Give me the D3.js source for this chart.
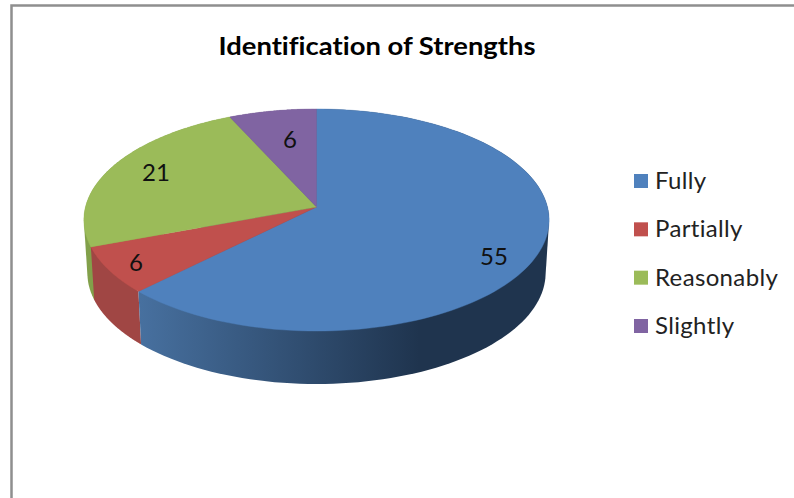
<!DOCTYPE html>
<html><head><meta charset="utf-8">
<script src="https://cdn.jsdelivr.net/npm/d3@7/dist/d3.min.js"></script>
<style>html,body{margin:0;padding:0;background:#fff;overflow:hidden}text{font-variant-ligatures:none}</style>
</head><body><div id="c"></div>
<script>
const titleText = "Identification of Strengths";
const categories = ["Fully", "Partially", "Reasonably", "Slightly"];
const values = [55, 6, 21, 6];
const topColors = ["#4f81bd", "#c0504d", "#9bbb59", "#8064a2"];
const wallLight = ["#47709f", "#a04644", "#82a04a", "#6b5488"];
const wallDark = ["#1f344e", "#8a3b39", "#6d8a3a", "#5a4672"];
const labelPos = [[494, 255], [136, 261], [156, 171], [290, 138]];
const wallOrder = [3, 2, 1, 0];

const W = 794, H = 498;
const svg = d3.select("#c").append("svg").attr("width", W).attr("height", H)
  .style("display", "block");
svg.append("rect").attr("width", W).attr("height", H).attr("fill", "#fff");

// frame
svg.append("path").attr("d", d3.line()([[11.5, H], [11.5, 5.5], [W, 5.5]]))
  .attr("fill", "none").attr("stroke", "#8f8f8f").attr("stroke-width", 2.5);

// title
svg.append("text").attr("x", 377).attr("y", 55).attr("text-anchor", "middle")
  .attr("font-family", "Lato").attr("font-weight", 700).attr("font-size", 25)
  .attr("textLength", 317).attr("lengthAdjust", "spacingAndGlyphs")
  .attr("fill", "#000").text(titleText);

// pie with perspective projection of a tilted disc
const cx = 316.5, cy = 207, persp = 0.117, kx = 231, ky = 109.5, depth = 53, shrink = 0.985;
function proj(a, bottom) {
  const s = Math.sin(a), v = -Math.cos(a), d = 1 - persp * v;
  return bottom
    ? [cx + kx * shrink * s / d, cy + depth + ky * v / d]
    : [cx + kx * s / d, cy + ky * v / d];
}
const arcs = d3.pie().sort(null)(values);
const line = d3.line();
const defs = svg.append("defs");
const sample = (a0, a1) => d3.range(0, 121).map(i => a0 + (a1 - a0) * i / 120);

arcs.forEach((d, i) => {
  const g = defs.append("linearGradient").attr("id", "w" + i)
    .attr("gradientUnits", "userSpaceOnUse")
    .attr("x1", 140).attr("x2", 545).attr("y1", 0).attr("y2", 0);
  [[0, wallLight[i]], [0.69, wallDark[i]], [1, wallDark[i]]]
    .forEach(s => g.append("stop").attr("offset", s[0]).attr("stop-color", s[1]));
});

// side walls: hull of the swept rim, painted back to front
svg.append("g").selectAll("path").data(wallOrder).join("path")
  .attr("fill", i => `url(#w${i})`)
  .attr("d", i => {
    const as = sample(arcs[i].startAngle, arcs[i].endAngle);
    const pts = as.map(a => proj(a, false)).concat(as.map(a => proj(a, true)));
    return line(d3.polygonHull(pts)) + "Z";
  });

// top faces
svg.append("g").selectAll("path").data(arcs).join("path")
  .attr("fill", (d, i) => topColors[i])
  .attr("stroke", (d, i) => topColors[i]).attr("stroke-width", 0.4)
  .attr("d", d => line([[cx, cy]].concat(sample(d.startAngle, d.endAngle).map(a => proj(a, false)))) + "Z");

// data labels
svg.append("g").selectAll("text").data(values).join("text")
  .attr("x", (d, i) => labelPos[i][0]).attr("y", (d, i) => labelPos[i][1])
  .attr("text-anchor", "middle").attr("dominant-baseline", "central")
  .attr("font-family", "Lato").attr("font-size", 24).attr("fill", "#111")
  .text(d => d);

// legend
const ly = d3.scalePoint().domain(categories).range([181, 326]);
const lg = svg.append("g").selectAll("g").data(categories).join("g")
  .attr("transform", d => `translate(634,${ly(d)})`);
lg.append("rect").attr("x", 0).attr("y", -7).attr("width", 14).attr("height", 14)
  .attr("fill", (d, i) => topColors[i]);
lg.append("text").attr("x", 21).attr("y", 8).attr("font-family", "Lato")
  .attr("font-size", 24).attr("letter-spacing", 0.35).attr("fill", "#222").text(d => d);
</script></body></html>
